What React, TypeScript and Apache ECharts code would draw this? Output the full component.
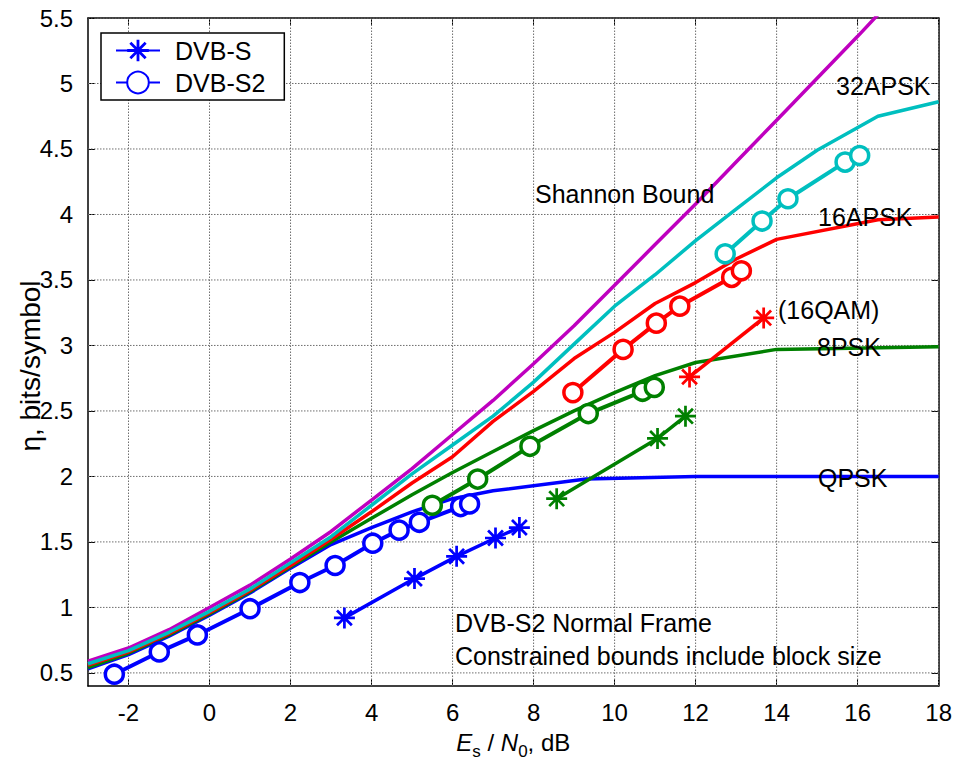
import React, { useEffect, useRef } from "react";
import * as echarts from "echarts";

// Axis ranges and tick positions
const xMin = -3;
const xMax = 18;
const yMin = 0.4;
const yMax = 5.5;
const xTicks = [-2, 0, 2, 4, 6, 8, 10, 12, 14, 16, 18];
const yTicks = [0.5, 1, 1.5, 2, 2.5, 3, 3.5, 4, 4.5, 5, 5.5];

// Shannon capacity bound, Es/N0 (dB) vs bits/symbol
const shannonBound: [number, number][] = [
  [-3, 0.59], [-2, 0.69], [-1, 0.83], [0, 1.0], [1, 1.17], [2, 1.37], [3, 1.58],
  [4, 1.82], [5, 2.06], [6, 2.32], [7, 2.58], [8, 2.86], [9, 3.15], [10, 3.46],
  [11, 3.77], [12, 4.08], [13, 4.4], [14, 4.72], [15, 5.04], [16, 5.36], [17, 5.69],
];

// Constrained capacity bounds (normal frame block size)
const qpskBound: [number, number][] = [
  [-3, 0.53], [-2, 0.64], [-1, 0.78], [0, 0.94], [1, 1.11], [2, 1.3], [3, 1.48],
  [4, 1.61], [5, 1.73], [6, 1.83], [7, 1.89], [9.3, 1.98], [12, 2.0], [18, 2.0],
];
const psk8Bound: [number, number][] = [
  [-3, 0.54], [-2, 0.65], [-1, 0.79], [0, 0.95], [1, 1.12], [2, 1.31], [3, 1.5],
  [4, 1.68], [5, 1.86], [6, 2.03], [7, 2.19], [8, 2.35], [9, 2.5], [10, 2.64],
  [11, 2.77], [12, 2.87], [14, 2.97], [18, 2.99],
];
const apsk16Bound: [number, number][] = [
  [-3, 0.56], [-2, 0.66], [-1, 0.8], [0, 0.96], [1, 1.13], [2, 1.32], [3, 1.52],
  [4, 1.73], [5, 1.95], [6, 2.15], [7, 2.42], [8, 2.65], [9, 2.9], [10, 3.1],
  [11, 3.32], [12, 3.48], [13, 3.66], [14, 3.81], [16.5, 3.96], [18, 3.98],
];
const apsk32Bound: [number, number][] = [
  [-3, 0.57], [-2, 0.67], [-1, 0.81], [0, 0.97], [1, 1.14], [2, 1.34], [3, 1.54],
  [4, 1.78], [5, 2.02], [6, 2.24], [7, 2.46], [8, 2.72], [9, 3.01], [10, 3.3],
  [11, 3.54], [12, 3.8], [13, 4.04], [14, 4.28], [15, 4.49], [16.5, 4.75], [18, 4.86],
];

// DVB-S2 MODCOD operating points
const s2Qpsk: [number, number][] = [
  [-2.35, 0.49], [-1.24, 0.66], [-0.3, 0.79], [1.0, 0.99], [2.23, 1.19], [3.1, 1.32],
  [4.03, 1.49], [4.68, 1.59], [5.18, 1.65], [6.2, 1.77], [6.42, 1.79],
];
const s2Psk8: [number, number][] = [
  [5.5, 1.78], [6.62, 1.98], [7.91, 2.23], [9.35, 2.48], [10.69, 2.65], [10.98, 2.68],
];
const s2Apsk16: [number, number][] = [
  [8.97, 2.64], [10.21, 2.97], [11.03, 3.17], [11.61, 3.3], [12.89, 3.52], [13.13, 3.57],
];
const s2Apsk32: [number, number][] = [
  [12.73, 3.7], [13.64, 3.95], [14.28, 4.12], [15.69, 4.4], [16.05, 4.45],
];

// DVB-S / DSNG operating points
const sQpsk: [number, number][] = [
  [3.33, 0.92], [5.06, 1.22], [6.1, 1.39], [7.06, 1.53], [7.65, 1.61],
];
const sPsk8: [number, number][] = [[8.57, 1.83], [11.06, 2.29], [11.75, 2.46]];
const sQam16: [number, number][] = [[11.85, 2.76], [13.68, 3.21]];

const BLUE = "#0000ff";
const GREEN = "#008000";
const RED = "#ff0000";
const CYAN = "#00bfbf";
const MAGENTA = "#bf00bf";
const FONT = "Liberation Sans, Arial, sans-serif";

// Asterisk marker: horizontal, vertical and two diagonal bars
const STAR =
  "path://M0 8.7H20V11.3H0Z M8.7 0H11.3V20H8.7Z " +
  "M3.85 2.0L18.0 16.15L16.15 18.0L2.0 3.85Z " +
  "M16.15 2.0L18.0 3.85L3.85 18.0L2.0 16.15Z";

function boundSeries(name: string, data: [number, number][], color: string, width = 3.5) {
  return {
    name,
    type: "line",
    data,
    symbol: "none",
    lineStyle: { color, width },
    itemStyle: { color },
    z: 2,
  };
}

function s2Series(name: string, data: [number, number][], color: string) {
  return {
    name,
    type: "line",
    data,
    symbol: "circle",
    symbolSize: 18,
    lineStyle: { color, width: 4 },
    itemStyle: { color: "#ffffff", borderColor: color, borderWidth: 3.5 },
    z: 4,
  };
}

function sSeries(name: string, data: [number, number][], color: string) {
  return {
    name,
    type: "line",
    data,
    symbol: STAR,
    symbolSize: 21,
    lineStyle: { color, width: 3.5 },
    itemStyle: { color },
    z: 4,
  };
}

// Dotted grid line spanning the plot at one tick value
function gridSeries(data: [number, number][]) {
  return {
    type: "line",
    data,
    symbol: "none",
    silent: true,
    lineStyle: { color: "#6e6e6e", type: [1.5, 1.5], width: 1 },
    z: 1,
  };
}

export default function App() {
  const ref = useRef<HTMLDivElement>(null);

  useEffect(() => {
    if (!ref.current) return;
    const chart = echarts.init(ref.current, undefined, { renderer: "svg" });

    const axisLine = { show: true, onZero: false, lineStyle: { color: "#000", width: 1.5 } };
    const tick = { show: true, inside: true, length: 7, lineStyle: { color: "#000", width: 1 } };

    const annotation = (text: string, x: number, y: number) => ({
      type: "text",
      left: x,
      top: y,
      z: 10,
      style: { text, font: `25px ${FONT}`, fill: "#000", textVerticalAlign: "middle" },
    });

    const gridLines = [
      ...xTicks.map((v) => gridSeries([[v, yMin], [v, yMax]])),
      ...yTicks.map((v) => gridSeries([[xMin, v], [xMax, v]])),
    ];

    chart.setOption({
      animation: false,
      backgroundColor: "#ffffff",
      textStyle: { fontFamily: FONT },
      grid: { left: 88, right: 15, top: 18, bottom: 78, containLabel: false },
      xAxis: [
        {
          type: "value",
          min: xMin,
          max: xMax,
          position: "bottom",
          axisLine,
          axisTick: { ...tick, customValues: xTicks },
          axisLabel: {
            customValues: xTicks,
            color: "#000",
            fontSize: 24,
            fontFamily: FONT,
            margin: 14,
          },
          splitLine: { show: false },
          name: "{i|E}{sub|s}{n| / }{i|N}{sub|0}{n|, dB}",
          nameLocation: "middle",
          nameGap: 38,
          nameTextStyle: {
            color: "#000",
            fontSize: 24,
            fontFamily: FONT,
            rich: {
              i: { fontStyle: "italic", fontSize: 24, fontFamily: FONT, color: "#000", lineHeight: 36 },
              n: { fontSize: 24, fontFamily: FONT, color: "#000", lineHeight: 36 },
              sub: {
                fontSize: 17,
                fontFamily: FONT,
                color: "#000",
                verticalAlign: "bottom",
                lineHeight: 12,
              },
            },
          },
        },
        {
          type: "value",
          min: xMin,
          max: xMax,
          position: "top",
          axisLine,
          axisTick: { ...tick, customValues: xTicks },
          axisLabel: { show: false, customValues: xTicks },
          splitLine: { show: false },
        },
      ],
      yAxis: [
        {
          type: "value",
          min: yMin,
          max: yMax,
          position: "left",
          axisLine,
          axisTick: { ...tick, customValues: yTicks },
          axisLabel: {
            customValues: yTicks,
            color: "#000",
            fontSize: 24,
            fontFamily: FONT,
            margin: 15,
          },
          splitLine: { show: false },
        },
        {
          type: "value",
          min: yMin,
          max: yMax,
          position: "right",
          axisLine,
          axisTick: { ...tick, customValues: yTicks },
          axisLabel: { show: false, customValues: yTicks },
          splitLine: { show: false },
        },
      ],
      legend: {
        show: true,
        orient: "vertical",
        left: 101,
        top: 33,
        data: ["DVB-S", "DVB-S2"],
        itemWidth: 44,
        itemHeight: 27,
        itemGap: 7,
        padding: [5, 19, 5, 14],
        backgroundColor: "#ffffff",
        borderColor: "#000",
        borderWidth: 1.5,
        borderRadius: 0,
        textStyle: { color: "#000", fontSize: 25, fontFamily: FONT, padding: [0, 0, 0, 10] },
        selectedMode: false,
        z: 20,
      },
      series: [
        ...gridLines,
        boundSeries("Shannon Bound", shannonBound, MAGENTA, 3.5),
        boundSeries("QPSK", qpskBound, BLUE),
        boundSeries("8PSK", psk8Bound, GREEN),
        boundSeries("16APSK", apsk16Bound, RED),
        boundSeries("32APSK", apsk32Bound, CYAN),
        s2Series("DVB-S2", s2Qpsk, BLUE),
        s2Series("DVB-S2 8PSK", s2Psk8, GREEN),
        s2Series("DVB-S2 16APSK", s2Apsk16, RED),
        s2Series("DVB-S2 32APSK", s2Apsk32, CYAN),
        sSeries("DVB-S", sQpsk, BLUE),
        sSeries("DVB-DSNG 8PSK", sPsk8, GREEN),
        sSeries("DVB-DSNG 16QAM", sQam16, RED),
      ],
      graphic: [
        {
          // y-axis title, rotated to read upwards
          type: "text",
          x: 30,
          y: 366,
          rotation: Math.PI / 2,
          z: 10,
          style: {
            text: "η, bits/symbol",
            font: `28px ${FONT}`,
            fill: "#000",
            textAlign: "center",
            textVerticalAlign: "middle",
          },
        },
        annotation("32APSK", 836, 73),
        annotation("Shannon Bound", 535, 181),
        annotation("16APSK", 818, 204),
        annotation("(16QAM)", 778, 297),
        annotation("8PSK", 817, 334),
        annotation("QPSK", 818, 465),
        annotation("DVB-S2 Normal Frame", 455, 610),
        annotation("Constrained bounds include block size", 455, 643),
      ],
    });

    return () => chart.dispose();
  }, []);

  return (
    <div
      ref={ref}
      style={{ position: "absolute", left: 0, top: 0, width: 955, height: 765 }}
    />
  );
}
